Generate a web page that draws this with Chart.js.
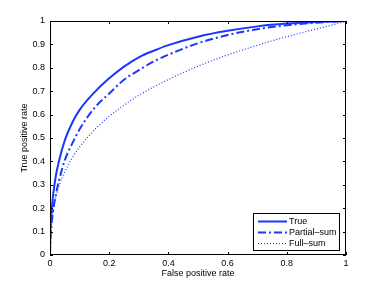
<!DOCTYPE html>
<html>
<head>
<meta charset="utf-8">
<script src="https://cdn.jsdelivr.net/npm/chart.js@4"></script>
<style>
  html, body { margin: 0; padding: 0; background: #fff; }
  #wrap { width: 382px; height: 287px; }
</style>
</head>
<body>
<div id="wrap"><canvas id="roc"></canvas></div>
<script>
const seriesLabels = ['True', 'Partial\u2013sum', 'Full\u2013sum'];

// points as [false positive rate, true positive rate]
const truePts = [[0,0],[0.001,0.085],[0.002,0.12],[0.005,0.18],[0.01,0.25],[0.02,0.34],[0.03,0.4],
  [0.05,0.49],[0.075,0.565],[0.1,0.62],[0.15,0.695],[0.2,0.755],[0.25,0.805],[0.3,0.845],[0.35,0.873],
  [0.4,0.897],[0.5,0.933],[0.6,0.958],[0.7,0.977],[0.8,0.989],[0.9,0.996],[1,1]];
const partialPts = [[0,0],[0.001,0.05],[0.002,0.078],[0.005,0.127],[0.01,0.184],[0.02,0.26],[0.03,0.316],
  [0.05,0.405],[0.075,0.476],[0.1,0.537],[0.15,0.628],[0.2,0.69],[0.25,0.749],[0.3,0.79],[0.35,0.827],
  [0.4,0.856],[0.5,0.905],[0.6,0.94],[0.7,0.965],[0.8,0.982],[0.9,0.993],[1,1]];
const fullPts = [[0,0],[0.001,0.073],[0.002,0.098],[0.005,0.143],[0.01,0.19],[0.02,0.25],[0.03,0.293],
  [0.05,0.356],[0.075,0.415],[0.1,0.462],[0.15,0.535],[0.2,0.593],[0.25,0.64],[0.3,0.682],[0.35,0.718],
  [0.4,0.75],[0.5,0.807],[0.6,0.855],[0.7,0.896],[0.8,0.933],[0.9,0.966],[0.95,0.982],[1,1]];

const xTicks = [0, 0.2, 0.4, 0.6, 0.8, 1];
const yTicks = [0, 0.1, 0.2, 0.3, 0.4, 0.5, 0.6, 0.7, 0.8, 0.9, 1];

const blue = 'rgb(25,55,255)';
const font = { family: 'Liberation Sans, Arial, sans-serif', size: 9 };

function toXY(pts) {
    return pts.map(p => ({ x: p[0], y: p[1] }));
}

// frame with inward ticks on all four sides, matlab style
const framePlugin = {
    id: 'frame',
    afterDatasetsDraw(chart) {
        const ctx = chart.ctx, a = chart.chartArea;
        const xs = chart.scales.x, ys = chart.scales.y;
        const len = 3;
        ctx.save();
        ctx.strokeStyle = '#000';
        ctx.lineWidth = 1;
        ctx.strokeRect(a.left + 0.5, a.top + 0.5, a.right - a.left - 1, a.bottom - a.top - 1);
        ctx.beginPath();
        xTicks.forEach(v => {
            const px = Math.round(xs.getPixelForValue(v)) + 0.5;
            ctx.moveTo(px, a.bottom); ctx.lineTo(px, a.bottom - len);
            ctx.moveTo(px, a.top); ctx.lineTo(px, a.top + len);
        });
        yTicks.forEach(v => {
            const py = Math.round(ys.getPixelForValue(v)) + 0.5;
            ctx.moveTo(a.left, py); ctx.lineTo(a.left + len, py);
            ctx.moveTo(a.right, py); ctx.lineTo(a.right - len, py);
        });
        ctx.stroke();

        // legend box in lower right corner
        const bx = a.left + 203, by = a.top + 192, bw = 86, bh = 37;
        ctx.fillStyle = '#fff';
        ctx.fillRect(bx, by, bw, bh);
        ctx.strokeRect(bx + 0.5, by + 0.5, bw, bh);
        ctx.font = font.size + 'px ' + font.family;
        ctx.textBaseline = 'middle';
        chart.data.datasets.forEach((ds, i) => {
            const ly = Math.round(by + 7.5 + i * 11.3) + 0.5;
            ctx.save();
            ctx.strokeStyle = ds.borderColor;
            ctx.lineWidth = ds.borderWidth;
            ctx.setLineDash(ds.borderDash || []);
            ctx.beginPath();
            ctx.moveTo(bx + 5, ly); ctx.lineTo(bx + 34, ly);
            ctx.stroke();
            ctx.restore();
            ctx.fillStyle = '#000';
            ctx.fillText(ds.label, bx + 36, ly);
        });
        ctx.restore();
    }
};

new Chart(document.getElementById('roc').getContext('2d'), {
    type: 'scatter',
    data: {
        datasets: [
            { label: seriesLabels[0], data: toXY(truePts), borderColor: blue, borderWidth: 2 },
            { label: seriesLabels[1], data: toXY(partialPts), borderColor: blue, borderWidth: 2, borderDash: [8, 3, 2, 3] },
            { label: seriesLabels[2], data: toXY(fullPts), borderColor: blue, borderWidth: 1.2, borderDash: [1, 2] }
        ].map(ds => Object.assign(ds, { showLine: true, pointRadius: 0, cubicInterpolationMode: 'monotone', fill: false }))
    },
    options: {
        responsive: true,
        maintainAspectRatio: false,
        animation: false,
        layout: { padding: { top: 21, right: 36, left: 0, bottom: 0 } },
        plugins: { legend: { display: false }, tooltip: { enabled: false } },
        scales: {
            x: {
                type: 'linear', min: 0, max: 1,
                grid: { display: false, drawTicks: false },
                border: { display: false },
                afterBuildTicks: s => { s.ticks = xTicks.map(v => ({ value: v })); },
                afterFit: s => { s.height = 32; },
                ticks: { color: '#000', font: font, padding: 3, maxRotation: 0, callback: v => String(v) },
                title: { display: true, text: 'False positive rate', color: '#000', font: font, padding: { top: 0, bottom: 7.6 } }
            },
            y: {
                type: 'linear', min: 0, max: 1,
                grid: { display: false, drawTicks: false },
                border: { display: false },
                afterBuildTicks: s => { s.ticks = yTicks.map(v => ({ value: v })); },
                afterFit: s => { s.width = 50; },
                ticks: { color: '#000', font: font, padding: 5, callback: v => String(v) },
                title: { display: true, text: 'True positive rate', color: '#000', font: font, padding: { top: 19.6, bottom: 0 } }
            }
        }
    },
    plugins: [framePlugin]
});
</script>
</body>
</html>
